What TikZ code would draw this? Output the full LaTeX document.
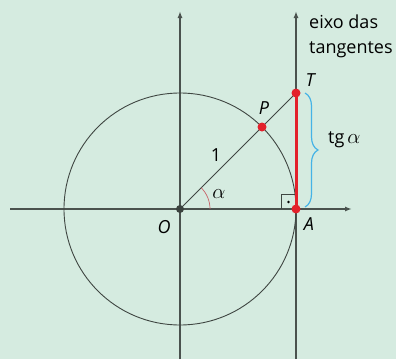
\documentclass[tikz,border=0pt]{standalone}
\usepackage{fontspec}
\setmainfont{Open Sans}
\usetikzlibrary{arrows.meta,decorations.pathreplacing,calc}
\definecolor{bg}{HTML}{D5EBE0}
\definecolor{linegray}{HTML}{4A524E}
\definecolor{redpt}{HTML}{E3212B}
\definecolor{bracec}{HTML}{45B3E6}
\definecolor{arcc}{HTML}{C8646A}
\newcommand{\bigalpha}{{\fontsize{22}{25}\selectfont$\alpha$}}
\begin{document}
\begin{tikzpicture}[x=1pt,y=-1pt,
  axis/.style={draw=linegray,line width=1.4pt,-{Latex[length=7pt,width=5pt]}},
  thinl/.style={draw=linegray!85!black,line width=0.9pt},
  lbl/.style={font=\fontsize{18}{25}\selectfont,inner sep=0pt},
  ilbl/.style={lbl,font=\fontsize{18}{25}\selectfont\itshape},
  rdot/.style={circle,fill=redpt,inner sep=0pt,minimum size=9pt},
  odot/.style={circle,fill=linegray!80!black,inner sep=0pt,minimum size=8pt}]
\fill[bg] (0,0) rectangle (396,359);
\useasboundingbox (0,0) rectangle (396,359);
\coordinate (O) at (180,209);
\coordinate (A) at (296,209);
\coordinate (T) at (296,93);
\coordinate (P) at (262,127);
\coordinate (xs) at (10,209);
\coordinate (xe) at (352,209);
\coordinate (ys) at (180,359);
\coordinate (ye) at (180,11);
\coordinate (ts) at (296,359);
\coordinate (te) at (296,11);
% axes
\draw[axis] (xs) -- (xe);
\draw[axis] (ys) -- (ye);
\draw[axis] (ts) -- (te);
% circle
\draw[thinl] (O) circle (116pt);
% radius line
\draw[thinl] (O) -- (T);
% angle arc
\draw[arcc,line width=0.7pt] ($(O)+(30pt,0pt)$) arc (0:45:30pt);
% right angle
\draw[thinl,line width=0.8pt] (281,209) -- (281,194) -- (296,194);
\fill[black] (288.5,202) circle (1.3pt);
% tangent segment
\draw[redpt,line width=3pt] (T) -- (A);
% brace
\draw[bracec,line width=1.2pt,decorate,decoration={brace,amplitude=13pt}] (305,93) -- (305,207);
% points
\node[odot] (Od) at (O) {};
\node[rdot] (Ad) at (A) {};
\node[rdot] (Td) at (T) {};
\node[rdot] (Pd) at (P) {};
% labels
\node[ilbl] (lT) at (310,80) {T};
\node[ilbl] (lP) at (264,108) {P};
\node[ilbl] (lO) at (164,227) {O};
\node[ilbl] (lA) at (309,224) {A};
\node[lbl] (l1) at (216,155) {1};
\node[lbl] (lal) at (219,194) {\bigalpha};
\node[lbl,anchor=west] (ltg) at (328,140) {tg\,\bigalpha};
\node[lbl,anchor=base west,align=left] (leixo) at (309,53) {eixo das\\tangentes};
\end{tikzpicture}
\end{document}
